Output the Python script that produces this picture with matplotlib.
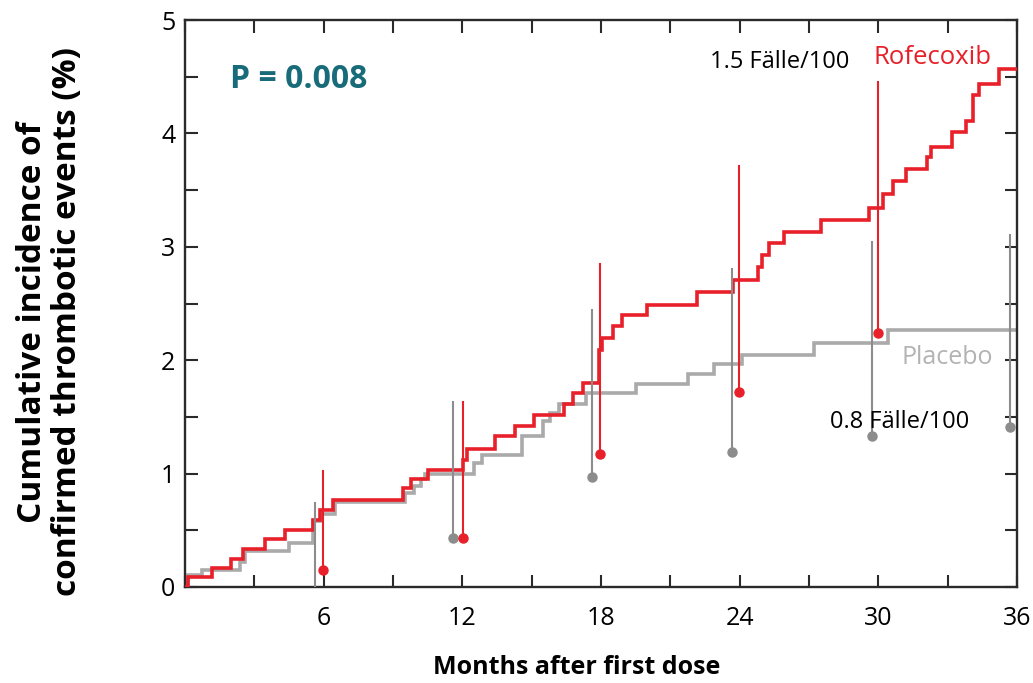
import matplotlib
matplotlib.use("Agg")
import matplotlib.pyplot as plt
from matplotlib.ticker import MultipleLocator, FixedLocator

# ---- data ----
rofe_t = [0, 0.14, 1.15, 2.0, 2.5, 3.46, 4.33, 5.55, 5.84, 6.42, 9.45, 9.8, 10.5,
          12.05, 12.2, 13.4, 14.3, 15.1, 16.4, 16.8, 17.2, 17.9, 18.05, 18.5, 18.9,
          20.0, 22.15, 23.7, 24.8, 24.95, 25.25, 25.9, 27.5, 29.6, 30.2, 30.65,
          31.2, 32.1, 32.3, 33.2, 33.8, 34.1, 34.35, 35.2, 36.0]
rofe_y = [0, 0.09, 0.17, 0.25, 0.335, 0.42, 0.50, 0.59, 0.68, 0.77, 0.87, 0.95, 1.03,
          1.12, 1.22, 1.33, 1.42, 1.52, 1.61, 1.71, 1.80, 2.09, 2.20, 2.30, 2.40,
          2.49, 2.60, 2.71, 2.82, 2.93, 3.03, 3.13, 3.24, 3.34, 3.47, 3.58,
          3.69, 3.79, 3.88, 4.01, 4.11, 4.34, 4.44, 4.57, 4.57]

plac_t = [0, 0.14, 0.72, 2.4, 2.6, 4.5, 5.55, 5.9, 6.5, 9.5, 9.9, 10.2, 10.4,
          12.5, 12.85, 14.6, 15.5, 15.8, 16.2, 17.35, 19.5, 21.75, 22.9, 24.1,
          27.2, 30.4, 36.0]
plac_y = [0, 0.11, 0.15, 0.22, 0.32, 0.39, 0.58, 0.64, 0.75, 0.83, 0.89, 0.95, 1.00,
          1.09, 1.16, 1.33, 1.46, 1.53, 1.61, 1.71, 1.79, 1.88, 1.97, 2.05,
          2.15, 2.27, 2.27]

rofe_ci_x = [5.96, 12.02, 17.97, 23.99, 30.0]
rofe_ci_low = [0.15, 0.43, 1.17, 1.72, 2.24]
rofe_ci_high = [1.02, 1.63, 2.85, 3.71, 4.45]

plac_ci_x = [5.63, 11.6, 17.63, 23.66, 29.74, 35.7]
plac_ci_low = [0.0, 0.43, 0.97, 1.19, 1.33, 1.41]
plac_ci_high = [0.74, 1.63, 2.44, 2.80, 3.04, 3.10]

x_ticks = [6, 12, 18, 24, 30, 36]
y_ticks = [0, 1, 2, 3, 4, 5]

# ---- style ----
RED = "#e8202a"
GRAY = "#aaaaaa"
DGRAY = "#8c8c8c"
TEAL = "#186b78"
FONT = ["Open Sans", "DejaVu Sans"]
plt.rcParams["font.family"] = FONT

fig = plt.figure(figsize=(10.33, 6.83), dpi=100)
ax = fig.add_axes([185 / 1033, 96 / 683, 832 / 1033, 567 / 683])

ax.step(plac_t, plac_y, where="post", color=GRAY, lw=2.6, zorder=2, solid_joinstyle="miter")
ax.step(rofe_t, rofe_y, where="post", color=RED, lw=2.6, zorder=3, solid_joinstyle="miter")

for x, lo, hi in zip(plac_ci_x, plac_ci_low, plac_ci_high):
    ax.plot([x, x], [lo, hi], color=DGRAY, lw=1.5, zorder=4)
    if lo > 0:
        ax.plot([x], [lo], "o", color=DGRAY, ms=6.5, zorder=5)
for x, lo, hi in zip(rofe_ci_x, rofe_ci_low, rofe_ci_high):
    ax.plot([x, x], [lo, hi], color=RED, lw=1.5, zorder=4)
    ax.plot([x], [lo], "o", color=RED, ms=6.5, zorder=5)

ax.set_xlim(0, 36)
ax.set_ylim(0, 5)
ax.xaxis.set_major_locator(FixedLocator(x_ticks))
ax.xaxis.set_minor_locator(MultipleLocator(3))
ax.yaxis.set_major_locator(FixedLocator(y_ticks))
ax.yaxis.set_minor_locator(MultipleLocator(0.5))
ax.tick_params(which="both", direction="in", length=9, width=1.5, color="#2a2a2a",
               top=True, right=True)
ax.tick_params(axis="x", which="major", labelsize=18, pad=14)
ax.tick_params(axis="y", which="major", labelsize=18, pad=7)
for s in ax.spines.values():
    s.set_linewidth(1.7)
    s.set_color("#2a2a2a")

fig.text(577 / 1033, 1 - 668 / 683, "Months after first dose", fontsize=18,
         fontweight="bold", ha="center", va="center")
fig.text(50 / 1033, 1 - 322 / 683, "Cumulative incidence of\nconfirmed thrombotic events (%)",
         rotation=90, ha="center", va="center", fontsize=24, fontweight="bold",
         linespacing=1.05, multialignment="center")

fig.text(230 / 1033, 1 - 79 / 683, "P = 0.008", color=TEAL, fontsize=23,
         fontweight="bold", ha="left", va="center")
fig.text(710 / 1033, 1 - 62 / 683, "1.5 Fälle/100", color="black", fontsize=17,
         ha="left", va="center")
fig.text(873 / 1033, 1 - 57 / 683, "Rofecoxib", color=RED, fontsize=18.5,
         ha="left", va="center")
fig.text(902 / 1033, 1 - 358 / 683, "Placebo", color="#b3b3b3", fontsize=18,
         ha="left", va="center")
fig.text(830 / 1033, 1 - 422 / 683, "0.8 Fälle/100", color="black", fontsize=17,
         ha="left", va="center")

fig.savefig("out.png", dpi=100)
